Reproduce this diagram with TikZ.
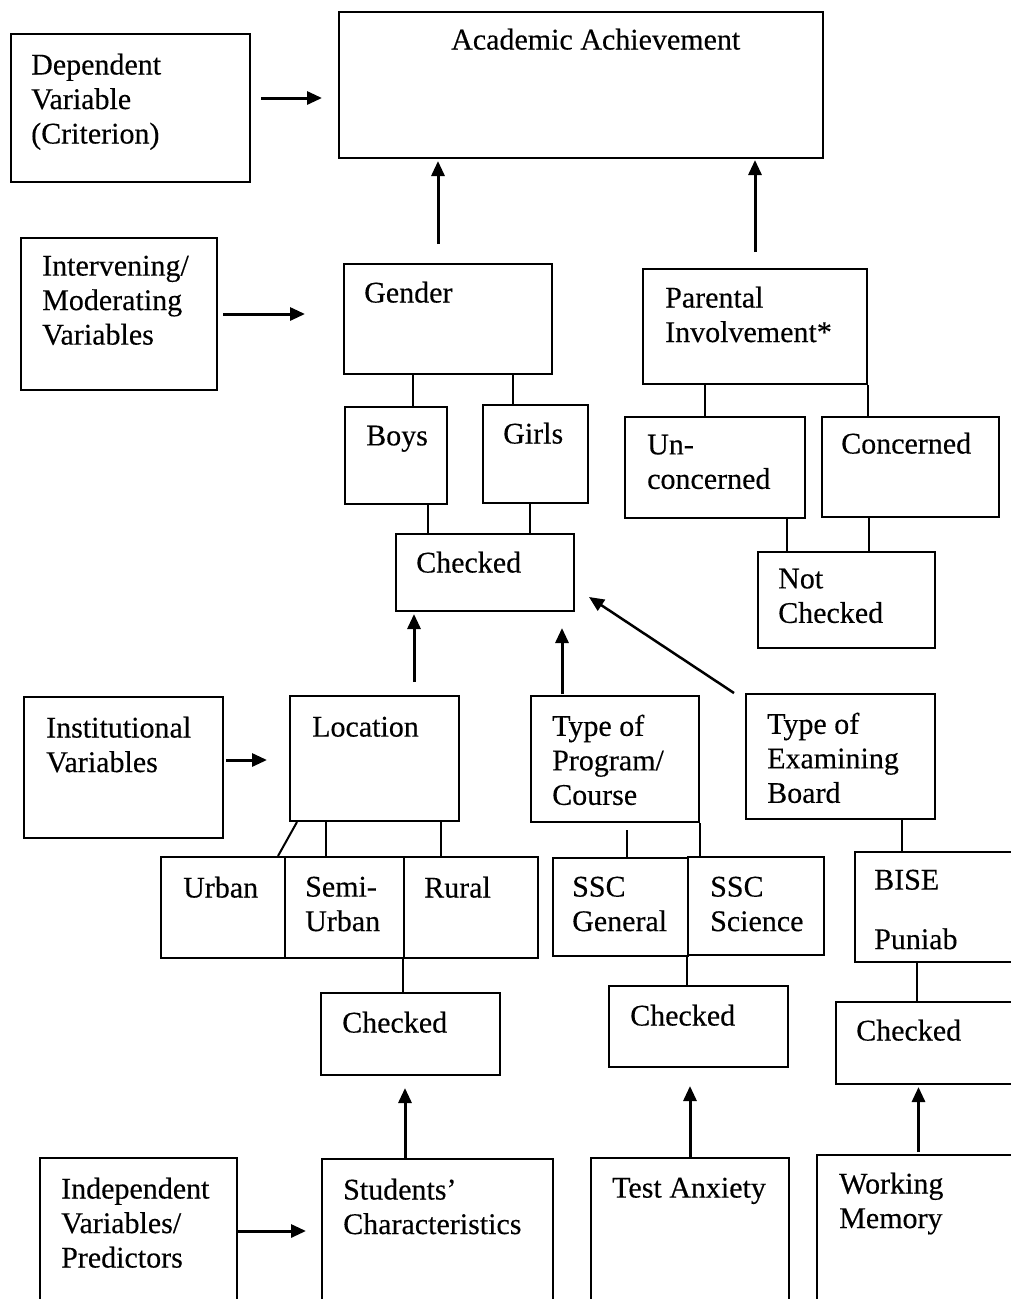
\documentclass[tikz,border=0pt]{standalone}
\usepackage{fontspec}
\setmainfont{Liberation Serif}[FakeBold=0.3]
\usetikzlibrary{arrows.meta,fit}
\tikzset{
  box/.style={draw, line width=2pt, inner sep=0pt},
  txt/.style={anchor=north west, align=left, inner sep=0pt, yshift=20.5pt,
    font={\fontsize{30}{34.5}\selectfont}},
  link/.style={line width=2pt},
  arr/.style={line width=3pt, -{Triangle[length=15pt,width=13pt]}},
}

\begin{document}
\begin{tikzpicture}[x=1pt,y=-1pt]
	\useasboundingbox (0,0) rectangle (1010,1299);
	
	%%%%% boxes %%%%%
	\node[box, fit={(11,34) (250,182)}] (dep) {};
	\node[box, fit={(339,12) (823,158)}] (acad) {};
	\node[box, fit={(21,238) (217,390)}] (interv) {};
	\node[box, fit={(344,264) (552,374)}] (gender) {};
	\node[box, fit={(643,269) (867,384)}] (parent) {};
	\node[box, fit={(345,407) (447,504)}] (boys) {};
	\node[box, fit={(483,405) (588,503)}] (girls) {};
	\node[box, fit={(396,534) (574,611)}] (chkg) {};
	\node[box, fit={(625,417) (805,518)}] (uncon) {};
	\node[box, fit={(822,417) (999,517)}] (conc) {};
	\node[box, fit={(758,552) (935,648)}] (notchk) {};
	
	\node[box, fit={(24,697) (223,838)}] (inst) {};
	\node[box, fit={(290,696) (459,821)}] (loc) {};
	\node[box, fit={(531,696) (699,822)}] (prog) {};
	\node[box, fit={(746,694) (935,819)}] (exam) {};
	
	\node[box, fit={(161,857) (285,958)}] (urban) {};
	\node[box, fit={(285,857) (404,958)}] (semi) {};
	\node[box, fit={(404,857) (538,958)}] (rural) {};
	\node[box, fit={(553,858) (688,956)}] (sscgen) {};
	\node[box, fit={(688,857) (824,955)}] (sscsci) {};
	\node[box, fit={(855,852) (1020,962)}] (bise) {};
	
	\node[box, fit={(321,993) (500,1075)}] (chkl) {};
	\node[box, fit={(609,986) (788,1067)}] (chkp) {};
	\node[box, fit={(836,1002) (1020,1084)}] (chkb) {};
	
	\node[box, fit={(40,1158) (237,1310)}] (indep) {};
	\node[box, fit={(322,1159) (553,1310)}] (stud) {};
	\node[box, fit={(591,1158) (789,1310)}] (test) {};
	\node[box, fit={(817,1155) (1020,1310)}] (wm) {};
	
	%%%%% texts (at first baseline) %%%%%
	\node[txt] (depT) at (31,74) {Dependent\\Variable\\(Criterion)};
	\node[txt] (acadT) at (451,49) {Academic Achievement};
	\node[txt] (intervT) at (42,276) {Intervening/\\Moderating\\Variables};
	\node[txt] (genderT) at (364,302) {Gender};
	\node[txt] (parentT) at (665,307) {Parental\\Involvement*};
	\node[txt] (boysT) at (366,446) {Boys};
	\node[txt] (girlsT) at (503,443) {Girls};
	\node[txt] (chkgT) at (416,572) {Checked};
	\node[txt] (unconT) at (647,455) {Un-\\concerned};
	\node[txt] (concT) at (841,453) {Concerned};
	\node[txt] (notchkT) at (778,589) {Not\\Checked};
	
	\node[txt] (instT) at (46,737) {Institutional\\Variables};
	\node[txt] (locT) at (312,737) {Location};
	\node[txt] (progT) at (552,735) {Type of\\Program/\\Course};
	\node[txt] (examT) at (767,733) {Type of\\Examining\\Board};
	
	\node[txt] (urbanT) at (183,897) {Urban};
	\node[txt] (semiT) at (305,897) {Semi-\\Urban};
	\node[txt] (ruralT) at (424,897) {Rural};
	\node[txt] (sscgenT) at (572,897) {SSC\\General};
	\node[txt] (sscsciT) at (710,897) {SSC\\Science};
	\node[txt] (biseT) at (874,890) {BISE\\[25pt]Puniab};
	
	\node[txt] (chklT) at (342,1032) {Checked};
	\node[txt] (chkpT) at (630,1025) {Checked};
	\node[txt] (chkbT) at (856,1040) {Checked};
	
	\node[txt] (indepT) at (61,1198) {Independent\\Variables/\\Predictors};
	\node[txt] (studT) at (343,1199) {Students'\\Characteristics};
	\node[txt] (testT) at (612,1198) {Test Anxiety};
	\node[txt] (wmT) at (839,1193) {Working\\Memory};
	
	%%%%% arrows %%%%%
	\draw[arr, shorten <=10pt, shorten >=16pt] ([yshift=10pt]dep.east) -- ([yshift=10pt]dep.east -| acad.west);
	\draw[arr, shorten <=19pt, shorten >=2pt] ([xshift=-10pt]gender.north) -- ([xshift=-10pt]gender.north |- acad.south);
	\draw[arr, shorten <=16pt, shorten >=1pt] (parent.north) -- (parent.north |- acad.south);
	\draw[arr, shorten <=5pt, shorten >=38pt] (interv.east) -- (interv.east -| gender.west);
	\draw[arr, shorten <=13pt, shorten >=2pt] ([xshift=39.5pt]loc.north) -- ([xshift=39.5pt]loc.north |- chkg.south);
	\draw[arr, shorten <=1pt, shorten >=16pt] ([xshift=-53pt]prog.north) -- ([xshift=-53pt]prog.north |- chkg.south);
	\draw[arr, line width=2.5pt] ([xshift=-11pt]exam.north west) -- ([shift={(14pt,15pt)}]chkg.south east);
	\draw[arr, shorten <=2pt, shorten >=22pt] ([yshift=7.5pt]inst.east) -- ([yshift=7.5pt]inst.east -| loc.west);
	\draw[arr, shorten >=12pt] ([xshift=-5.5pt]chkl.south |- stud.north) -- ([xshift=-5.5pt]chkl.south);
	\draw[arr, shorten >=15pt] ([yshift=3pt]indep.east) -- ([yshift=3pt]indep.east -| stud.west);
	\draw[arr, shorten >=18pt] (test.north) -- (test.north |- chkp.south);
	\draw[arr, shorten <=2pt, shorten >=2pt] (wm.north) -- (wm.north |- chkb.south);
	
	%%%%% plain links %%%%%
	\draw[link] ([xshift=-35pt]gender.south) -- ([xshift=-35pt]gender.south |- boys.north);
	\draw[link] ([xshift=65pt]gender.south) -- ([xshift=65pt]gender.south |- girls.north);
	\draw[link] ([xshift=32pt]boys.south) -- ([xshift=32pt]boys.south |- chkg.north);
	\draw[link] ([xshift=-5.5pt]girls.south) -- ([xshift=-5.5pt]girls.south |- chkg.north);
	\draw[link] ([xshift=-50pt]parent.south) -- ([xshift=-50pt]parent.south |- uncon.north);
	\draw[link] (parent.south east) -- (parent.south east |- conc.north);
	\draw[link] ([xshift=-60pt]notchk.north) -- ([xshift=-60pt]notchk.north |- uncon.south);
	\draw[link] ([xshift=22pt]notchk.north) -- ([xshift=22pt]notchk.north |- conc.south);
	
	\draw[link] ([xshift=8pt]loc.south west) -- ([xshift=-8pt]urban.north east);
	\draw[link] ([xshift=37pt]loc.south west) -- ([xshift=37pt]loc.south west |- semi.north);
	\draw[link] ([xshift=-19pt]loc.south east) -- ([xshift=-19pt]loc.south east |- rural.north);
	\draw[link] (rural.south west) -- (rural.south west |- chkl.north);
	
	\draw[link] ([xshift=12pt,yshift=-7pt]prog.south) -- ([xshift=12pt]prog.south |- sscgen.north);
	\draw[link] (prog.south east) -- (prog.south east |- sscsci.north);
	\draw[link] (sscsci.south west) -- (sscsci.south west |- chkp.north);
	
	\draw[link] ([xshift=61.5pt]exam.south) -- ([xshift=61.5pt]exam.south |- bise.north);
	\draw[link] ([xshift=-11pt]chkb.north) -- ([xshift=-11pt]chkb.north |- bise.south);
\end{tikzpicture}
\end{document}
